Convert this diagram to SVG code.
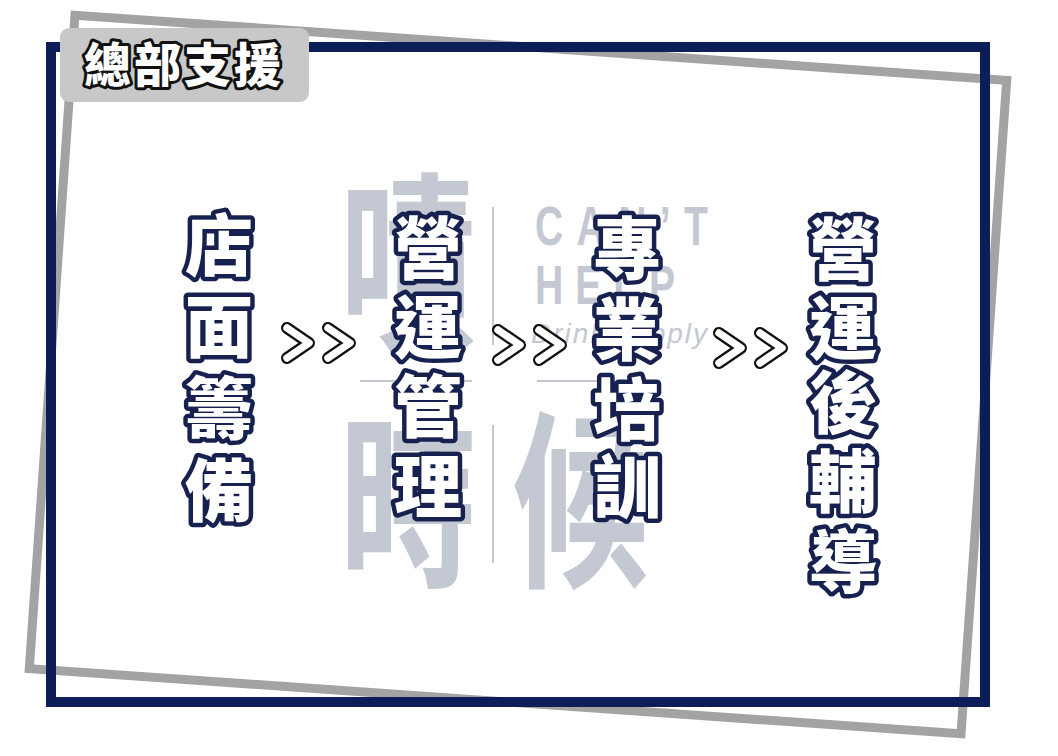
<svg xmlns="http://www.w3.org/2000/svg" width="1058" height="756" viewBox="0 0 1058 756">
<style>
.wm{fill:#c4c8d3;font-family:"Noto Sans CJK TC","Noto Sans CJK SC",sans-serif;font-weight:700;}
.wml{fill:#c4c8d3;font-family:"Liberation Sans",Arial,sans-serif;}
.node{font-family:"Noto Sans CJK TC","Noto Sans CJK SC",sans-serif;font-weight:900;font-size:68px;fill:#ffffff;stroke:#16214f;stroke-width:9;stroke-linejoin:round;paint-order:stroke;text-anchor:middle;}
.chev-o{fill:none;stroke:#111111;stroke-width:12;stroke-linejoin:round;stroke-linecap:round;}
.chev-i{fill:none;stroke:#ffffff;stroke-width:7.5;stroke-linejoin:round;stroke-linecap:round;}
</style>
<defs>
<g id="chev">
<polyline class="chev-o" points="-11,-15 11,0 -11,15"/>
<polyline class="chev-i" points="-11,-15 11,0 -11,15"/>
</g>
</defs>
<rect width="1058" height="756" fill="#ffffff"/>
<g id="frame">
<rect x="51" y="47" width="934" height="655" fill="none" stroke="#a3a3a3" stroke-width="9" transform="rotate(4 518 374.5)"/>
<rect x="51" y="47" width="934" height="655" fill="none" stroke="#0d1d58" stroke-width="10"/>
</g>
<g id="title">
<rect x="60" y="28" width="249" height="74" rx="9" fill="#c8c8c8"/>
<text x="184" y="82" font-family="'Noto Sans CJK TC','Noto Sans CJK SC',sans-serif" font-weight="900" font-size="47" letter-spacing="3" fill="#ffffff" stroke="#111111" stroke-width="6" stroke-linejoin="round" paint-order="stroke" text-anchor="middle">總部支援</text>
</g>
<g id="watermark">
<text class="wm" font-size="190" text-anchor="middle" transform="translate(408 334) scale(0.72 1)">嘖</text>
<text class="wm" font-size="190" text-anchor="middle" transform="translate(408 572) scale(0.72 1)">時</text>
<text class="wm" font-size="190" text-anchor="middle" transform="translate(580 572) scale(0.72 1)">候</text>
<rect x="492" y="207" width="2" height="138" fill="#c4c8d3"/>
<rect x="492" y="425" width="2" height="138" fill="#c4c8d3"/>
<rect x="360" y="380" width="112" height="2" fill="#c4c8d3"/>
<rect x="537" y="380" width="64" height="2" fill="#c4c8d3"/>
<text class="wml" font-weight="700" font-size="56" letter-spacing="19" transform="translate(535 245) scale(0.7 1)">CAN’T</text>
<text class="wml" font-weight="700" font-size="56" letter-spacing="17" transform="translate(535 304) scale(0.7 1)">HELP</text>
<text class="wml" font-size="28" font-style="italic" x="531" y="343" textLength="176" lengthAdjust="spacing">Drink supply</text>
</g>
<g id="node1">
<text class="node"><tspan x="219" y="271">店</tspan><tspan x="219" y="352">面</tspan><tspan x="219" y="434">籌</tspan><tspan x="219" y="516">備</tspan></text>
</g>
<g id="node2">
<text class="node"><tspan x="428" y="274">營</tspan><tspan x="428" y="353">運</tspan><tspan x="428" y="432">管</tspan><tspan x="428" y="512">理</tspan></text>
</g>
<g id="node3">
<text class="node"><tspan x="627" y="274">專</tspan><tspan x="627" y="355">業</tspan><tspan x="627" y="435">培</tspan><tspan x="627" y="512">訓</tspan></text>
</g>
<g id="node4">
<text class="node"><tspan x="843" y="275">營</tspan><tspan x="843" y="354">運</tspan><tspan x="843" y="428">後</tspan><tspan x="843" y="507">輔</tspan><tspan x="843" y="587">導</tspan></text>
</g>
<g id="connectors">
<use href="#chev" transform="translate(298 343)"/>
<use href="#chev" transform="translate(339 343)"/>
<use href="#chev" transform="translate(509 345)"/>
<use href="#chev" transform="translate(550 345)"/>
<use href="#chev" transform="translate(730 348)"/>
<use href="#chev" transform="translate(771 348)"/>
</g>
</svg>
